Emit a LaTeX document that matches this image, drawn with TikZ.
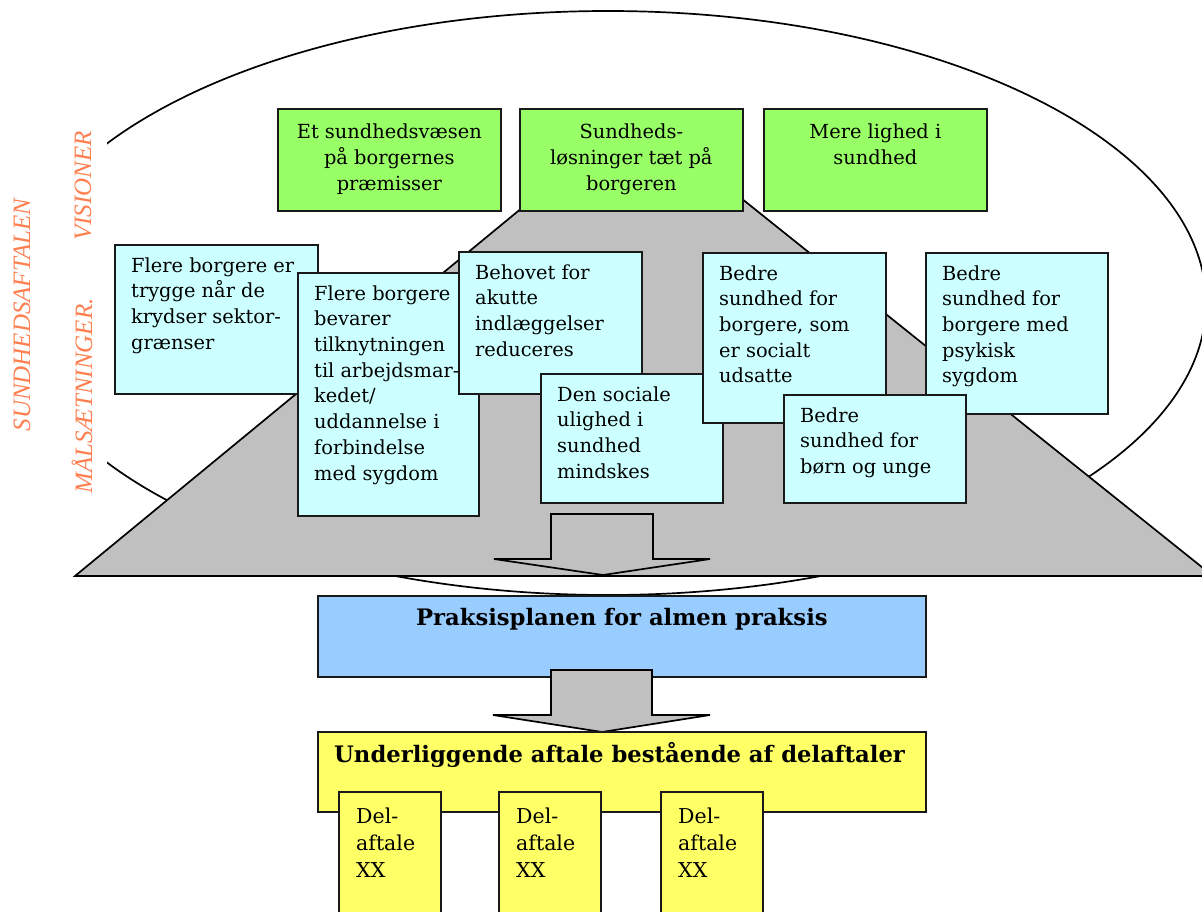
\documentclass[tikz,border=0pt]{standalone}
\usepackage{fontspec}
\setmainfont{DejaVu Serif}
\newfontfamily\orfont{Liberation Serif}
\usetikzlibrary{calc}
\definecolor{vgreen}{RGB}{153,255,102}
\definecolor{vcyan}{RGB}{204,255,255}
\definecolor{vblue}{RGB}{153,204,255}
\definecolor{vyellow}{RGB}{255,255,102}
\definecolor{vgray}{RGB}{192,192,192}
\definecolor{vorange}{RGB}{255,127,80}
\newcommand\tbox[7]{%
  \node[#2, minimum width=#5pt, minimum height=#6pt] (#1) at (#3,#4) {};
  \node[txt] (#1t) at ($(#1.north west)+(17,10)$) {\strut #7};
}
\begin{document}
\begin{tikzpicture}[x=1pt,y=-1pt,
  boxbase/.style={draw=black!90, line width=1.7pt, inner sep=0pt, anchor=north west},
  gbox/.style={boxbase, fill=vgreen},
  cbox/.style={boxbase, fill=vcyan},
  bbox/.style={boxbase, fill=vblue},
  ybox/.style={boxbase, fill=vyellow},
  txt/.style={inner sep=0pt, anchor=north west, align=left, font=\fontsize{19.4}{25.7}\selectfont},
  ctxt/.style={inner sep=0pt, anchor=north, align=center, font=\fontsize{19.4}{26}\selectfont},
  dtxt/.style={inner sep=0pt, anchor=north west, align=left, font=\fontsize{20.5}{27}\selectfont},
  ttl/.style={inner sep=0pt, font=\bfseries\fontsize{22.7}{27}\selectfont},
  side/.style={inner sep=0pt, rotate=90, text=vorange, font=\orfont\itshape\fontsize{25}{30}\selectfont},
  blockarrow/.style={draw=black, line width=1.7pt, line join=miter, fill=vgray},
]
\useasboundingbox (0,0) rectangle (1202,911);
\fill[white] (0,0) rectangle (1202,911);

% ellipse, cut on the left
\begin{scope}
  \clip (107,0) rectangle (1215,911);
  \draw[line width=1.7pt] (608,303) ellipse [x radius=598pt, y radius=292pt];
\end{scope}

% side labels
\node[side] (sa) at (22,315) {SUNDHEDSAFTALEN};
\node[side] (vi) at (83,186) {VISIONER};
\node[side] (ma) at (82,396) {MÅLSÆTNINGER.};

% triangle and inner arrow
\draw[blockarrow] (75,576) -- (636,114) -- (1213,576) -- cycle;
\draw[blockarrow] (551,514) -- (653,514) -- (653,559) -- (710,559) -- (603,575) -- (494,559) -- (551,559) -- cycle;

% visions
\node[gbox, minimum width=223pt, minimum height=102pt] (g1) at (277,108) {};
\node[ctxt] (g1t) at ($(g1.north)+(0,12)$) {\strut Et sundhedsvæsen\\på borgernes\\præmisser};
\node[gbox, minimum width=223pt, minimum height=102pt] (g2) at (519,108) {};
\node[ctxt] (g2t) at ($(g2.north)+(0,12)$) {\strut Sundheds-\\løsninger tæt på\\borgeren};
\node[gbox, minimum width=223pt, minimum height=102pt] (g3) at (763,108) {};
\node[ctxt] (g3t) at ($(g3.north)+(0,12)$) {\strut Mere lighed i\\sundhed};

% goals
\tbox{fe}{cbox}{114}{244}{203}{149}{Flere borgere er\\trygge når de\\krydser sektor-\\grænser}
\tbox{fb}{cbox}{297}{272}{181}{243}{Flere borgere\\bevarer\\tilknytningen\\til arbejdsmar-\\kedet/\\uddannelse i\\forbindelse\\med sygdom}
\tbox{be}{cbox}{458}{251}{183}{142}{Behovet for\\akutte\\indlæggelser\\reduceres}
\tbox{ds}{cbox}{540}{373}{182}{129}{Den sociale\\ulighed i\\sundhed\\mindskes}
\tbox{bs}{cbox}{702}{252}{183}{170}{Bedre\\sundhed for\\borgere, som\\er socialt\\udsatte}
\tbox{bp}{cbox}{925}{252}{182}{161}{Bedre\\sundhed for\\borgere med\\psykisk\\sygdom}
\tbox{bu}{cbox}{783}{394}{182}{108}{Bedre\\sundhed for\\børn og unge}

% practice plan
\node[bbox, minimum width=608pt, minimum height=81pt] (pl) at (317,595) {};
\node[ttl, anchor=base] (plt) at ($(pl.north)+(0,30)$) {Praksisplanen for almen praksis};
\draw[blockarrow] (551,670) -- (652,670) -- (652,715) -- (710,715) -- (602,732) -- (493,715) -- (551,715) -- cycle;

% underlying agreement
\node[ybox, minimum width=608pt, minimum height=80pt] (ua) at (317,731) {};
\node[ttl, anchor=base west] (uat) at ($(ua.north west)+(17,31)$) {Underliggende aftale bestående af delaftaler};
\foreach \n/\x in {d1/338, d2/498, d3/660}{
  \node[ybox, minimum width=102pt, minimum height=135pt] (\n) at (\x,791) {};
  \node[dtxt] (\n t) at ($(\n.north west)+(18,13)$) {\strut Del-\\aftale\\XX};
}
\end{tikzpicture}
\end{document}
